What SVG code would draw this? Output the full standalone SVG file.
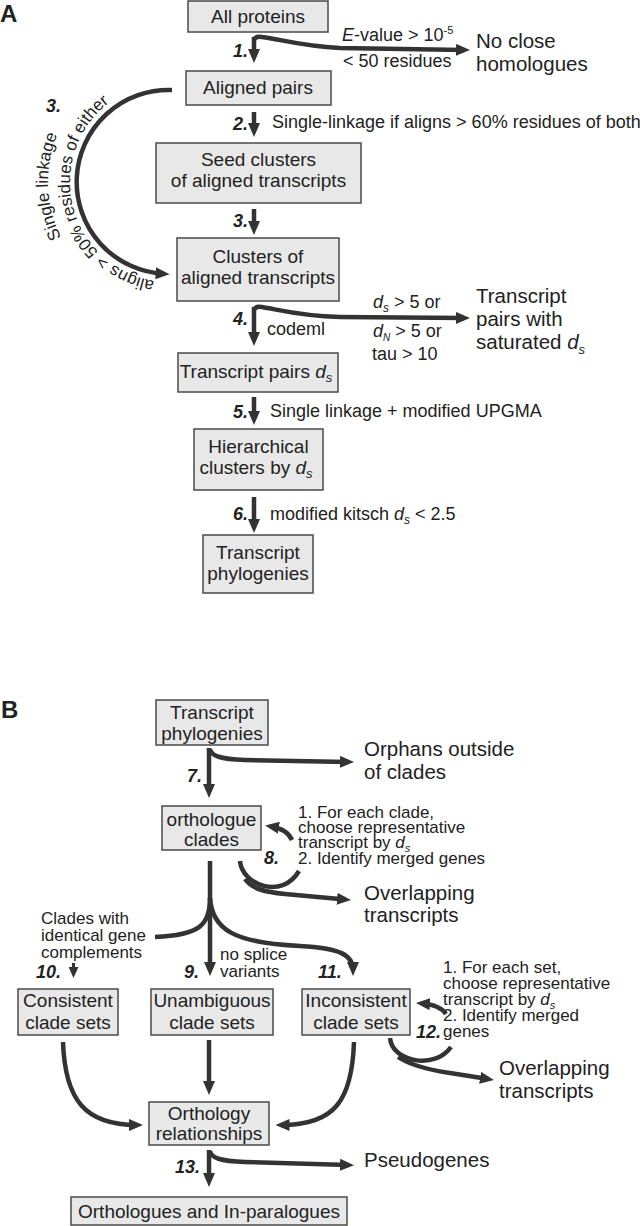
<svg xmlns="http://www.w3.org/2000/svg" width="640" height="1226" viewBox="0 0 640 1226">
<style>
text{font-family:"Liberation Sans",Arial,Helvetica,sans-serif;fill:#222}
.box{fill:#e8e8e8;stroke:#4a4a4a;stroke-width:1.5}
.bt{font-size:19px;text-anchor:middle}
.lt{font-size:18px}
.st{font-size:17px}
.ot{font-size:20.5px}
.at{font-size:17px}
.num{font-size:18px;font-weight:bold;font-style:italic}
.nume{font-size:18px;font-weight:bold;font-style:italic;text-anchor:end}
.panel{font-size:24px;font-weight:bold}
.ar{fill:none;stroke:#333;stroke-width:4.5;marker-end:url(#ah)}
.ars{fill:none;stroke:#333;stroke-width:3;marker-end:url(#ahs)}
.ln{fill:none;stroke:#333;stroke-width:4.5}
.it{font-style:italic}
</style>
<defs>
<marker id="ah" viewBox="0 0 14 12" markerWidth="14" markerHeight="12" markerUnits="userSpaceOnUse" refX="8" refY="6" orient="auto">
<path d="M0,0 L14,6 L0,12 z" fill="#333"/>
</marker>
<marker id="ahs" viewBox="0 0 11 10" markerWidth="11" markerHeight="10" markerUnits="userSpaceOnUse" refX="6" refY="5" orient="auto">
<path d="M0,0 L11,5 L0,10 z" fill="#333"/>
</marker>
<path id="arcInner" d="M154.4,280.8 A100,100 0 0 1 127.7,91.4"/>
<path id="arcOuter" d="M61.3,237.4 A122,122 0 0 1 76.5,103.6"/>
</defs>

<text class="panel" x="0" y="22">A</text>
<text class="panel" x="1" y="718">B</text>

<g id="connectors">
<!-- Panel A -->
<path class="ar" d="M254,37 L254,57"/>
<path class="ar" d="M254,40 Q255,36 262,37 C280,39 300,46 340,48 L464,50"/>
<path class="ar" d="M254,112 L254,131"/>
<path class="ar" d="M172,90 A92,92 0 0 0 163.6,273.8"/>
<path class="ar" d="M254,209 L254,229"/>
<path class="ar" d="M254,307 L254,340"/>
<path class="ar" d="M254,310 Q255,306 262,307 C280,310 300,316 340,317 L464,318"/>
<path class="ar" d="M254,397 L254,419"/>
<path class="ar" d="M254,497 L254,527"/>
<!-- Panel B -->
<path class="ar" d="M209,748 L209,792"/>
<path class="ar" d="M210,749 C211,756 220,759 245,760 L348,762"/>
<path class="ar" d="M292,840 Q287,829 271,826.5"/>
<path class="ln" d="M240,861 C242,885 282,900 299,871"/>
<path class="ar" d="M245,879 C252,889 265,892 285,894 L345,899.5"/>
<path class="ar" d="M210,861 L210,970"/>
<path class="ln" d="M210,898 C210,925 200,935 155,937"/>
<path class="ar" d="M210,898 C212,930 235,943 300,946 C340,948 353,955 353,970"/>
<path class="ars" d="M73.5,963 L73.5,973"/>
<path class="ar" d="M446,1014 Q440,1005 422,1003.5"/>
<path class="ln" d="M390,1038 C392,1062 435,1070 451,1047"/>
<path class="ar" d="M398,1057 C410,1065 430,1070 450,1073 L488,1079"/>
<path class="ar" d="M63,1042 C65,1100 85,1125 137,1125"/>
<path class="ar" d="M209,1040 L209,1089"/>
<path class="ar" d="M354,1042 C352,1100 335,1125 281.5,1125"/>
<path class="ar" d="M209,1150 L209,1181"/>
<path class="ar" d="M210,1151 C211,1158 220,1161 245,1162 L348,1165"/>
</g>

<g id="edge-labels">
<text class="nume" x="248" y="57">1.</text>
<text class="lt" x="342" y="41"><tspan class="it">E</tspan>-value &gt; 10<tspan dy="-7" font-size="11">-5</tspan></text>
<text class="lt" x="343" y="67">&lt; 50 residues</text>
<text class="nume" x="248" y="130">2.</text>
<text class="lt" x="272" y="128">Single-linkage if aligns &gt; 60% residues of both</text>
<text class="num" x="46" y="112">3.</text>
<text class="at"><textPath href="#arcInner">aligns &gt; 50% residues of either</textPath></text>
<text class="at"><textPath href="#arcOuter">Single linkage</textPath></text>
<text class="nume" x="248" y="227">3.</text>
<text class="nume" x="248" y="325">4.</text>
<text class="lt" x="267" y="335">codeml</text>
<text class="lt" x="373" y="308"><tspan class="it">d</tspan><tspan class="it" dy="4" font-size="12">s</tspan><tspan dy="-4"> &gt; 5 or</tspan></text>
<text class="lt" x="373" y="337"><tspan class="it">d</tspan><tspan class="it" dy="4" font-size="10">N</tspan><tspan dy="-4"> &gt; 5 or</tspan></text>
<text class="lt" x="372" y="360">tau &gt; 10</text>
<text class="nume" x="248" y="418">5.</text>
<text class="lt" x="270" y="417">Single linkage + modified UPGMA</text>
<text class="nume" x="248" y="520">6.</text>
<text class="lt" x="270" y="520">modified kitsch <tspan class="it">d</tspan><tspan class="it" dy="4" font-size="12">s</tspan><tspan dy="-4"> &lt; 2.5</tspan></text>

<text class="nume" x="202" y="782">7.</text>
<text class="st" x="298" y="818">1. For each clade,</text>
<text class="st" x="298" y="833">choose representative</text>
<text class="st" x="298" y="848">transcript by <tspan class="it">d</tspan><tspan class="it" dy="4" font-size="11">s</tspan></text>
<text class="st" x="298" y="864">2. Identify merged genes</text>
<text class="num" x="264" y="864">8.</text>
<text class="st" x="41" y="924">Clades with</text>
<text class="st" x="41" y="941">identical gene</text>
<text class="st" x="41" y="958">complements</text>
<text class="num" x="36" y="978">10.</text>
<text class="num" x="184" y="978">9.</text>
<text class="st" x="220" y="960">no splice</text>
<text class="st" x="220" y="977">variants</text>
<text class="num" x="318" y="978">11.</text>
<text class="st" x="443" y="973">1. For each set,</text>
<text class="st" x="443" y="989">choose representative</text>
<text class="st" x="443" y="1005">transcript by <tspan class="it">d</tspan><tspan class="it" dy="4" font-size="11">s</tspan></text>
<text class="st" x="443" y="1021">2. Identify merged</text>
<text class="st" x="443" y="1037">genes</text>
<text class="num" x="416" y="1038">12.</text>
<text class="num" x="175" y="1173">13.</text>
</g>

<g id="all-proteins"><rect class="box" x="188" y="1" width="140" height="31"/><text class="bt" x="258" y="23">All proteins</text></g>
<g id="no-close-homologues"><text class="ot" x="476" y="48">No close</text><text class="ot" x="476" y="71">homologues</text></g>
<g id="aligned-pairs"><rect class="box" x="186" y="71" width="145" height="34"/><text class="bt" x="258" y="94">Aligned pairs</text></g>
<g id="seed-clusters"><rect class="box" x="156" y="143" width="205" height="60"/><text class="bt" x="258.5" y="166">Seed clusters</text><text class="bt" x="258.5" y="187">of aligned transcripts</text></g>
<g id="clusters"><rect class="box" x="177" y="238" width="162" height="63"/><text class="bt" x="258" y="263">Clusters of</text><text class="bt" x="258" y="284">aligned transcripts</text></g>
<g id="saturated"><text class="ot" x="476" y="303">Transcript</text><text class="ot" x="476" y="326">pairs with</text><text class="ot" x="476" y="349">saturated <tspan class="it">d</tspan><tspan class="it" dy="5" font-size="13">s</tspan></text></g>
<g id="transcript-pairs"><rect class="box" x="178" y="353" width="160" height="39"/><text class="bt" x="256" y="378">Transcript pairs <tspan class="it">d</tspan><tspan class="it" dy="4" font-size="13">s</tspan></text></g>
<g id="hierarchical"><rect class="box" x="194" y="429" width="129" height="61"/><text class="bt" x="258.5" y="453">Hierarchical</text><text class="bt" x="256" y="474">clusters by <tspan class="it">d</tspan><tspan class="it" dy="4" font-size="13">s</tspan></text></g>
<g id="phylogenies-a"><rect class="box" x="203" y="535" width="110" height="58"/><text class="bt" x="258" y="559">Transcript</text><text class="bt" x="258" y="580">phylogenies</text></g>

<g id="phylogenies-b"><rect class="box" x="156" y="700" width="112" height="45"/><text class="bt" x="212" y="719">Transcript</text><text class="bt" x="212" y="740">phylogenies</text></g>
<g id="orphans"><text class="ot" x="364" y="756">Orphans outside</text><text class="ot" x="364" y="779">of clades</text></g>
<g id="orthologue-clades"><rect class="box" x="162" y="806" width="99" height="44"/><text class="bt" x="211.5" y="826">orthologue</text><text class="bt" x="211.5" y="846">clades</text></g>
<g id="overlapping-1"><text class="ot" x="364" y="900">Overlapping</text><text class="ot" x="364" y="922">transcripts</text></g>
<g id="consistent"><rect class="box" x="18" y="989" width="100" height="46"/><text class="bt" x="68" y="1007">Consistent</text><text class="bt" x="68" y="1029">clade sets</text></g>
<g id="unambiguous"><rect class="box" x="151" y="989" width="122" height="46"/><text class="bt" x="212" y="1007">Unambiguous</text><text class="bt" x="212" y="1029">clade sets</text></g>
<g id="inconsistent"><rect class="box" x="302" y="989" width="108" height="46"/><text class="bt" x="356" y="1007">Inconsistent</text><text class="bt" x="356" y="1029">clade sets</text></g>
<g id="overlapping-2"><text class="ot" x="499" y="1075">Overlapping</text><text class="ot" x="499" y="1098">transcripts</text></g>
<g id="orthology"><rect class="box" x="149" y="1102" width="120" height="43"/><text class="bt" x="209" y="1120">Orthology</text><text class="bt" x="209" y="1140">relationships</text></g>
<g id="pseudogenes"><text class="ot" x="364" y="1167">Pseudogenes</text></g>
<g id="orthologues"><rect class="box" x="71" y="1197" width="276" height="28"/><text class="bt" x="209" y="1218">Orthologues and In-paralogues</text></g>
</svg>
